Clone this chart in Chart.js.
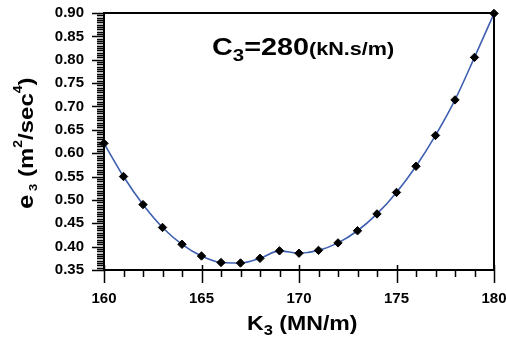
<!DOCTYPE html>
<html lang="en">
<head>
    <meta charset="UTF-8">
    <title>e3 vs K3</title>
    <script src="https://cdn.jsdelivr.net/npm/chart.js@4.4.1/dist/chart.umd.min.js"></script>
    <style>
        html, body { margin: 0; padding: 0; background: #fff; }
        #wrap { width: 506px; height: 339px; }
    </style>
</head>
<body>
    <div id="wrap"><canvas id="chart" width="506" height="339"></canvas></div>

    <script>
        // data
        let kValues = [160, 161, 162, 163, 164, 165, 166, 167, 168, 169, 170,
                       171, 172, 173, 174, 175, 176, 177, 178, 179, 180]
        let e3Values = [0.621, 0.550, 0.490, 0.441, 0.405, 0.380, 0.366, 0.365, 0.375, 0.391, 0.386,
                        0.392, 0.408, 0.434, 0.470, 0.516, 0.572, 0.638, 0.714, 0.805, 0.899]
        let xTickLabels = [160, 165, 170, 175, 180]
        let yTickLabels = [0.35, 0.40, 0.45, 0.50, 0.55, 0.60, 0.65, 0.70, 0.75, 0.80, 0.85, 0.90]

        const FONT = "'Liberation Sans', Arial, sans-serif"

        // draws a list of [text, size, dy] pieces one after another
        function drawPieces(ctx, pieces, x, y) {
            let cx = x
            pieces.forEach(p => {
                ctx.font = "bold " + p[1] + "px " + FONT
                ctx.fillText(p[0], cx, y + (p[2] || 0))
                cx += ctx.measureText(p[0]).width
            })
        }

        const extras = {
            id: 'extras',
            afterDraw(chart) {
                let ctx = chart.ctx
                let a = chart.chartArea
                let xs = chart.scales.x
                let ys = chart.scales.y
                ctx.save()
                ctx.strokeStyle = '#000'
                ctx.lineWidth = 2
                // frame top and right
                ctx.beginPath()
                ctx.moveTo(a.left, a.top)
                ctx.lineTo(a.right, a.top)
                ctx.lineTo(a.right, a.bottom)
                ctx.stroke()

                // x tick marks, major every 5
                ctx.lineWidth = 1.5
                ctx.beginPath()
                for (let k = xs.min; k <= xs.max; k++) {
                    let px = Math.round(xs.getPixelForValue(k)) + 0.5
                    let major = xTickLabels.includes(k)
                    ctx.moveTo(px, a.bottom - (major ? 5 : 0))
                    ctx.lineTo(px, a.bottom + (major ? 13 : 7))
                }
                // y tick marks, minor every 0.005
                for (let i = 0; i <= 110; i++) {
                    let v = 0.35 + i * 0.005
                    let py = Math.round(ys.getPixelForValue(v)) + 0.5
                    let major = i % 10 == 0
                    ctx.moveTo(a.left - (major ? 12 : 7), py)
                    ctx.lineTo(a.left, py)
                }
                ctx.stroke()

                ctx.fillStyle = '#000'
                ctx.textBaseline = 'alphabetic'

                // title inside plot
                ctx.save()
                ctx.translate(212, 55)
                ctx.scale(1.2, 1)
                drawPieces(ctx, [['C', 24], ['3', 17, 6], ['=280', 24], ['(kN.s/m)', 18]], 0, 0)
                ctx.restore()

                // x axis title
                ctx.save()
                ctx.translate(247, 330)
                ctx.scale(1.1, 1)
                drawPieces(ctx, [['K', 21], ['3', 15, 5], [' (MN/m)', 21]], 0, 0)
                ctx.restore()

                // y axis title
                ctx.save()
                ctx.translate(33, 209)
                ctx.rotate(-Math.PI / 2)
                ctx.scale(1, 0.88)
                drawPieces(ctx, [['e', 26], [' 3', 13, 4], [' (m', 24], ['2', 14, -12],
                                 ['/sec', 24], ['4', 14, -12], [')', 24]], 0, 0)
                ctx.restore()

                ctx.restore()
            }
        }

        let chart = document.getElementById("chart").getContext("2d")
        let e3Chart = new Chart(chart, {
            type: 'line',
            data: {
                datasets: [{
                    label: 'e3',
                    data: kValues.map((k, i) => ({ x: k, y: e3Values[i] })),
                    borderColor: '#3f5fb0',
                    borderWidth: 1.6,
                    tension: 0.4,
                    cubicInterpolationMode: 'monotone',
                    pointStyle: 'rectRot',
                    pointRadius: 4.2,
                    pointBackgroundColor: '#000',
                    pointBorderColor: '#000',
                    pointBorderWidth: 1
                }]
            },
            options: {
                responsive: false,
                animation: false,
                clip: false,
                layout: { padding: { top: 13, right: 12, left: 0, bottom: 0 } },
                plugins: {
                    legend: { display: false },
                    tooltip: { enabled: false }
                },
                scales: {
                    x: {
                        type: 'linear',
                        min: 160,
                        max: 180,
                        afterFit: s => { s.height = 69; s.paddingLeft = 0; s.paddingRight = 0 },
                        afterBuildTicks: s => { s.ticks = xTickLabels.map(v => ({ value: v })) },
                        grid: { display: false, drawTicks: false },
                        border: { display: true, color: '#000', width: 2 },
                        ticks: {
                            padding: 20,
                            color: '#000',
                            font: { family: FONT, size: 15, weight: 'bold' },
                            maxRotation: 0,
                            callback: v => v
                        }
                    },
                    y: {
                        min: 0.35,
                        max: 0.90,
                        afterFit: s => { s.width = 104; s.paddingTop = 0; s.paddingBottom = 0 },
                        afterBuildTicks: s => { s.ticks = yTickLabels.map(v => ({ value: v })) },
                        grid: { display: false, drawTicks: false },
                        border: { display: true, color: '#000', width: 2 },
                        ticks: {
                            padding: 20,
                            color: '#000',
                            font: { family: FONT, size: 15, weight: 'bold' },
                            callback: v => v.toFixed(2)
                        }
                    }
                }
            },
            plugins: [extras]
        })
    </script>
</body>
</html>
